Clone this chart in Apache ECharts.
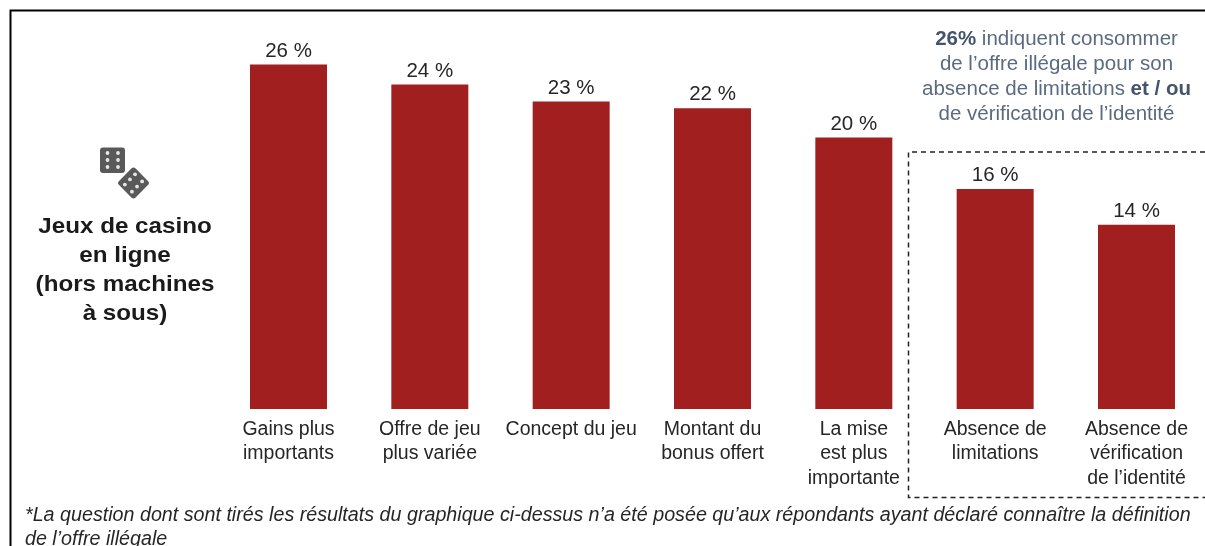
<!DOCTYPE html>
<html><head><meta charset="utf-8">
<style>html,body{margin:0;padding:0;background:#fff}#c{width:1205px;height:546px}</style>
<script src="https://cdn.jsdelivr.net/npm/echarts@6/dist/echarts.min.js"></script>
</head><body><div id="c"></div>
<script>
const categories=["Gains plus\nimportants","Offre de jeu\nplus variée","Concept du jeu","Montant du\nbonus offert","La mise\nest plus\nimportante","Absence de\nlimitations","Absence de\nvérification\nde l’identité"];
const barValues=[26,24.5,23.2,22.7,20.5,16.6,13.9];
const barLabels=["26 %","24 %","23 %","22 %","20 %","16 %","14 %"];
const FONT='"Liberation Sans",Arial,sans-serif';
const chart=echarts.init(document.getElementById('c'),null,{renderer:'canvas'});
function pip(x,y,r){return {type:'circle',shape:{cx:x,cy:y,r:r},style:{fill:'#e6e6e6'}};}
const pips=[];
[153,160,167].forEach(y=>[107.5,118].forEach(x=>pips.push(pip(x,y,1.9))));
const dx=133.5,dy=183,k=Math.SQRT1_2;
[-1,0,1].forEach(a=>[-1,1].forEach(b=>{
  const u=a*7.2,v=b*5;
  pips.push(pip(dx+(u+v)*k,dy+(-u+v)*k,1.9));
}));
chart.setOption({
 animation:false,
 grid:{left:288.5,width:848,top:11.5,height:397.5,containLabel:false},
 xAxis:{type:'category',boundaryGap:false,data:categories,axisLine:{show:false},axisTick:{show:false},
  axisLabel:{interval:0,color:'#262626',fontSize:19.5,fontFamily:FONT,lineHeight:24.5,margin:8,verticalAlign:'top',hideOverlap:false}},
 yAxis:{type:'value',min:0,max:30,show:false,splitLine:{show:false}},
 series:[{type:'bar',data:barValues,barWidth:77,clip:false,itemStyle:{color:'#A11F1F'},
  label:{show:true,position:'top',distance:3,color:'#262626',fontSize:20.5,fontFamily:FONT,
   formatter:p=>barLabels[p.dataIndex]}}],
 graphic:[
  {type:'polyline',shape:{points:[[10.5,546],[10.5,10.5],[1205,10.5]]},style:{stroke:'#000',lineWidth:2,fill:null}},
  {type:'polyline',shape:{points:[[1205,152],[908.5,152],[908.5,497.5],[1205,497.5]]},style:{stroke:'#222',lineWidth:1.5,lineDash:[5,4],fill:null}},
  {type:'rect',shape:{x:100,y:147.5,width:25,height:25.5,r:3},style:{fill:'#595959'}},
  {type:'rect',shape:{x:-11.7,y:-11.7,width:23.4,height:23.4,r:3},x:dx,y:dy,rotation:Math.PI/4,style:{fill:'#595959'}},
  ...pips,
  {type:'text',x:125,y:212,scaleX:1.1,style:{text:'Jeux de casino\nen ligne\n(hors machines\nà sous)',fill:'#1a1a1a',font:'bold 22px '+FONT,textAlign:'center',lineHeight:29}},
  {type:'text',x:1056.5,y:27,style:{rich:{b:{font:'bold 20.5px '+FONT,fill:'#44546A'},n:{font:'20.5px '+FONT,fill:'#5A6A80'}},
    text:'{b|26%}{n| indiquent consommer}\n{n|de l’offre illégale pour son}\n{n|absence de limitations }{b|et / ou}\n{n|de vérification de l’identité}',textAlign:'center',lineHeight:25}},
  {type:'text',x:25,y:503,style:{text:'*La question dont sont tirés les résultats du graphique ci-dessus n’a été posée qu’aux répondants ayant déclaré connaître la définition\nde l’offre illégale',fill:'#262626',font:'italic 19.7px '+FONT,lineHeight:24.5}}
 ]
});
</script></body></html>
